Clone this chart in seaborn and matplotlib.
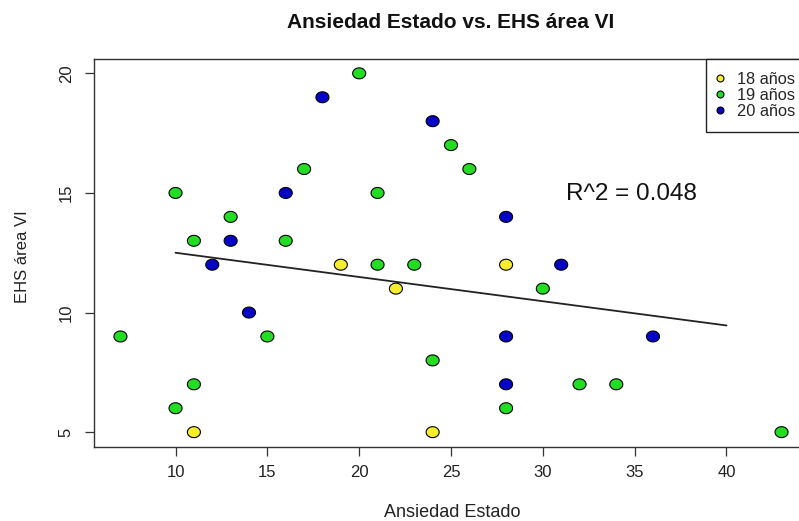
import numpy as np
import pandas as pd
import matplotlib
matplotlib.use("Agg")
import matplotlib.pyplot as plt
from matplotlib.path import Path
from matplotlib.lines import Line2D
import seaborn as sns

# ---- data ----
ansiedad = [7, 10, 10, 11, 11, 11, 12, 13, 13, 14, 15, 16, 16, 17, 18, 19, 20, 21, 21,
            22, 23, 24, 24, 24, 25, 26, 28, 28, 28, 28, 28, 30, 31, 32, 34, 36, 43]
ehs = [9, 15, 6, 13, 7, 5, 12, 13, 14, 10, 9, 13, 15, 16, 19, 12, 20, 15, 12,
       11, 12, 18, 8, 5, 17, 16, 14, 12, 9, 7, 6, 11, 12, 7, 7, 9, 5]
edad = ["19 años", "19 años", "19 años", "19 años", "19 años", "18 años", "20 años",
        "20 años", "19 años", "20 años", "19 años", "19 años", "20 años", "19 años",
        "20 años", "18 años", "19 años", "19 años", "19 años", "18 años", "19 años",
        "20 años", "19 años", "18 años", "19 años", "19 años", "20 años", "18 años",
        "20 años", "20 años", "19 años", "19 años", "20 años", "19 años", "19 años",
        "20 años", "19 años"]
grupos = ["18 años", "19 años", "20 años"]
colores = ["#F6EE2C", "#22DD22", "#0505C8"]
fit_x = [10, 40]
fit_y = [12.5, 9.46]
r2_text = "R^2 = 0.048"
x_ticks = [10, 15, 20, 25, 30, 35, 40]
y_ticks = [5, 10, 15, 20]

df = pd.DataFrame({"Ansiedad Estado": ansiedad, "EHS área VI": ehs, "Edad": edad})

sns.set_style("white")
plt.rcParams["font.family"] = ["Liberation Sans", "DejaVu Sans"]

W, H = 799, 521
fig = plt.figure(figsize=(W / 100, H / 100), dpi=100)
left, right, top, bottom = 94, 808, 59, 446.5
ax = fig.add_axes([left / W, 1 - bottom / H, (right - left) / W, (bottom - top) / H])

# elliptical marker (reference points are slightly wider than tall)
t = np.linspace(0, 2 * np.pi, 60)
ell = Path(np.column_stack([np.cos(t), 0.84 * np.sin(t)]), closed=True)

sns.scatterplot(data=df, x="Ansiedad Estado", y="EHS área VI", hue="Edad",
                hue_order=grupos, palette=colores, marker=ell, s=88,
                edgecolor="black", linewidth=0.8, legend=False, ax=ax, zorder=3)
sns.lineplot(x=fit_x, y=fit_y, color="#222222", linewidth=1.3, ax=ax, zorder=2)

ax.set_xlim(5.56, 44.44)
ax.set_ylim(4.4, 20.6)
ax.set_xticks(x_ticks)
ax.set_yticks(y_ticks)
ax.set_xticklabels([str(v) for v in x_ticks])
ax.set_yticklabels([str(v) for v in y_ticks])
for sp in ax.spines.values():
    sp.set_visible(True)
    sp.set_color("#333333")
    sp.set_linewidth(1.0)
ax.tick_params(axis="both", direction="out", length=6.5, width=0.9, color="#333333",
               labelsize=12, labelcolor="#222222", bottom=True, left=True)
ax.tick_params(axis="x", pad=7)
ax.tick_params(axis="y", pad=8)
for lab in ax.get_yticklabels():
    lab.set_rotation(90)
    lab.set_va("center")

ax.set_xlabel("Ansiedad Estado", fontsize=13, color="#222222")
ax.set_ylabel("EHS área VI", fontsize=12, color="#222222")
ax.xaxis.set_label_coords((452 - left) / (right - left), -(504 - bottom) / (bottom - top))
ax.yaxis.set_label_coords((30 - left) / (right - left), 0.49)

fig.text(451 / W, 1 - 22 / H, "Ansiedad Estado vs. EHS área VI", ha="center", va="center",
         fontsize=15, fontweight="bold", color="#111111")
fig.text(631 / W, 1 - 194 / H, r2_text, ha="center", va="center", fontsize=17.5,
         color="#111111")

handles = [Line2D([0], [0], marker="o", linestyle="none", markersize=5,
                  markerfacecolor=c, markeredgecolor="black", markeredgewidth=0.8)
           for c in colores]
leg = ax.legend(handles, grupos, loc="upper left", bbox_to_anchor=(705.5 / W, 1 - 59 / H),
                bbox_transform=fig.transFigure, fontsize=11.8, frameon=True, fancybox=False,
                edgecolor="#222222", framealpha=1, borderpad=0.8, labelspacing=0.06,
                handlelength=0.2, handletextpad=0.95, borderaxespad=0)
leg.get_frame().set_linewidth(1.0)

fig.savefig("out.png", dpi=100)
